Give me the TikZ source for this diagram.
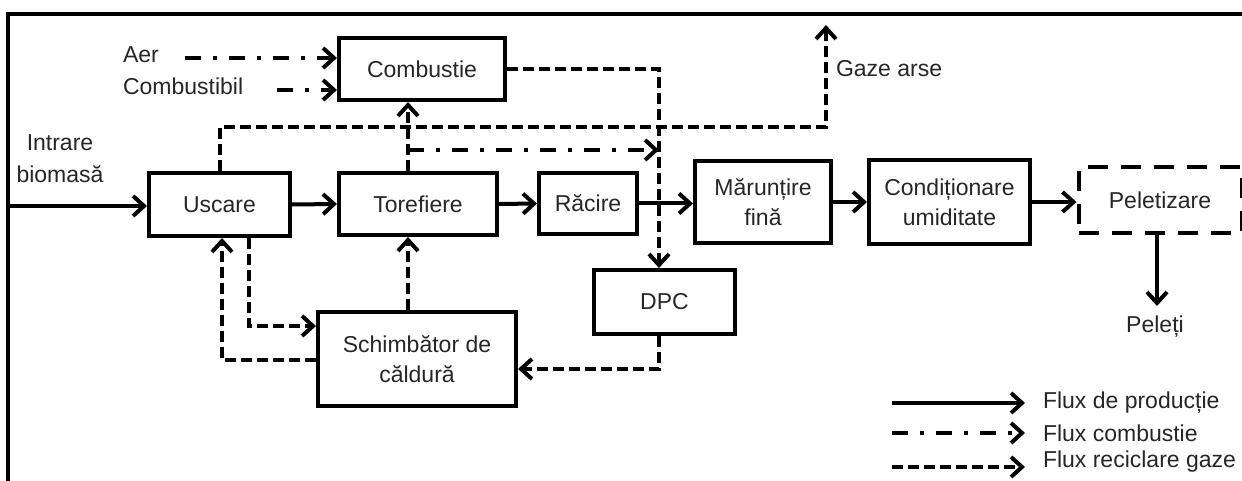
\documentclass[tikz,border=0pt]{standalone}
\usepackage{fontspec}
\setmainfont{Liberation Sans}
\usetikzlibrary{arrows.meta,calc}
\begin{document}
\begin{tikzpicture}[x=1pt,y=-1pt,line width=4pt,
  blk/.style={draw,line width=4pt,align=center,inner sep=0pt,font=\fontsize{23}{30}\selectfont,text=black!85},
  txt/.style={inner sep=0pt,align=center,font=\fontsize{23}{32}\selectfont,text=black!85},
  arr/.style={-{Straight Barb[length=11pt,width=20pt]}},
  ds/.style={dash pattern=on 11pt off 5pt},
  dd/.style={dash pattern=on 16pt off 12pt on 4pt off 12pt},
  peldash/.style={dash pattern=on 20pt off 13pt}]
\useasboundingbox (0,0) rectangle (1242,481);
% frame
\coordinate (fTL) at (8,14);
\coordinate (fTR) at (1244,14);
\coordinate (fBL) at (8,483);
\draw[line width=3.5pt] (fTR) -- (fTL) -- (fBL);
% boxes
\node[blk,minimum width=166pt,minimum height=62pt] (comb) at (422,69) {Combustie};
\node[blk,minimum width=141pt,minimum height=63pt] (usc) at (219.5,204.5) {Uscare};
\node[blk,minimum width=158pt,minimum height=62pt] (tor) at (418,204) {Torefiere};
\node[blk,minimum width=98pt,minimum height=61pt] (rac) at (588,203.5) {Răcire};
\node[blk,minimum width=136pt,minimum height=82pt] (mar) at (763,202) {Mărunțire\\fină};
\node[blk,minimum width=161pt,minimum height=84pt] (cond) at (949.5,202) {Condiționare\\umiditate};
\node[blk,peldash,minimum width=163pt,minimum height=66pt] (pel) at (1160,200) {Peletizare};
\node[blk,minimum width=141pt,minimum height=64pt] (dpc) at (664.5,302) {DPC};
\node[blk,minimum width=198pt,minimum height=94pt] (sch) at (417,359) {Schimbător de\\căldură};
% texts
\node[txt,anchor=west] (aer) at (121,55) {Aer};
\node[txt,anchor=west] (combtxt) at (121,86) {Combustibil};
\node[txt] (intr) at (60,159) {Intrare\\biomasă};
\node[txt,anchor=west] (gaze) at (834,69) {Gaze arse};
\node[txt] (peleti) at (1155,327) {Peleți};
\node[txt,anchor=west] (lg1) at (1041,403) {Flux de producție};
\node[txt,anchor=west] (lg2) at (1041,433) {Flux combustie};
\node[txt,anchor=west] (lg3) at (1041,462) {Flux reciclare gaze};
% coordinates
\coordinate (in0) at (8,206);
\coordinate (a0) at (185,58);
\coordinate (b0) at (277,90);
\coordinate (xd) at (659,0);
\coordinate (g1) at (826,127);
\coordinate (g2) at (826,25);
\coordinate (v1) at (408,0);
\coordinate (dd0) at (408,150);
\coordinate (u1) at (249,326);
\coordinate (u2) at (222,360);
\coordinate (d1) at (659,369);
\coordinate (p1) at (1157,0);
\coordinate (p2) at (1157,306);
\coordinate (l1) at (892,403);
\coordinate (l1e) at (1025,403);
\coordinate (l2) at (892,433);
\coordinate (l2e) at (1025,433);
\coordinate (l3) at (892,467);
\coordinate (l3e) at (1025,467);
% production flow
\draw[arr] (in0) -- (in0 -| usc.west);
\draw[arr] (usc.east) -- (tor.west);
\draw[arr] (tor.east) -- (rac.west);
\draw[arr] (rac.east) -- (rac.east -| mar.west);
\draw[arr] (mar.east) -- (mar.east -| cond.west);
\draw[arr] (cond.east) -- (cond.east -| pel.west);
\draw[arr] (p1 |- pel.south) -- (p2);
% combustion flow
\draw[arr,dd] (a0) -- (a0 -| comb.west);
\draw[arr,dd] (b0) -- (b0 -| comb.west);
\draw[arr,dd] (dd0) -- (dd0 -| xd);
% gas recycle flow
\draw[arr,ds] (comb.east) -| (xd |- dpc.north);
\draw[arr,ds] (usc.north) |- (g1) -- (g2);
\draw[arr,ds] (v1 |- tor.north) -- (v1 |- comb.south);
\draw[arr,ds] (v1 |- sch.north) -- (v1 |- tor.south);
\draw[arr,ds] (u1 |- usc.south) -- (u1) -- (u1 -| sch.west);
\draw[arr,ds] (u2 -| sch.west) -- (u2) -- (u2 |- usc.south);
\draw[arr,ds] (d1 |- dpc.south) -- (d1) -- (d1 -| sch.east);
% legend
\draw[arr] (l1) -- (l1e);
\draw[arr,dd] (l2) -- (l2e);
\draw[arr,ds] (l3) -- (l3e);
\end{tikzpicture}
\end{document}
